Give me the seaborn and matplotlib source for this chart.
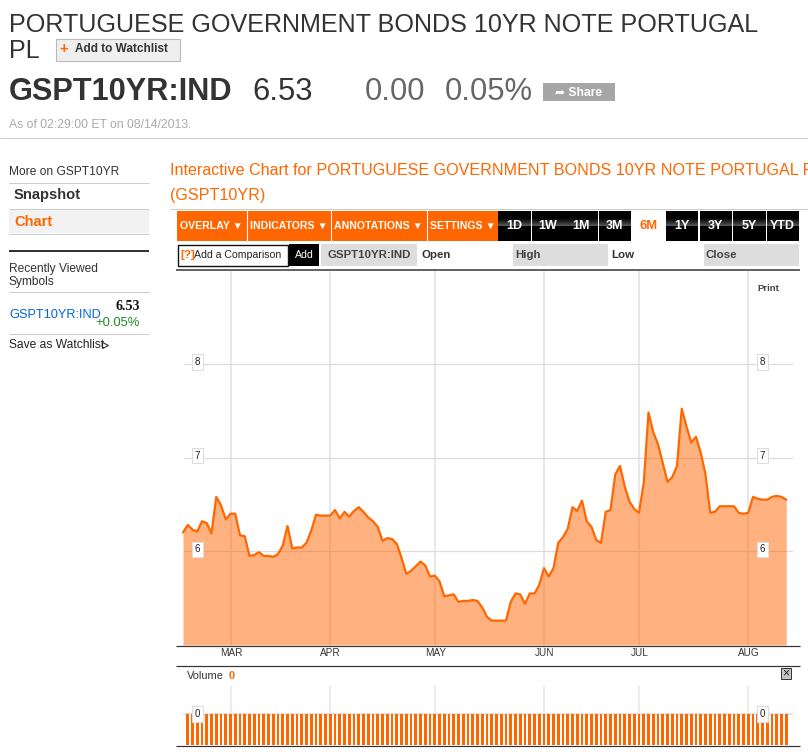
import numpy as np
import seaborn as sns
import matplotlib
matplotlib.use('Agg')
from matplotlib import pyplot as plt
from matplotlib.patches import Rectangle

sns.set_theme(style='white')
plt.rcParams['font.family'] = ['Liberation Sans', 'DejaVu Sans']

# yield closes, one per trading day
yields = [6.20, 6.28, 6.23, 6.21, 6.32, 6.30, 6.19, 6.58, 6.49, 6.34,
          6.40, 6.40, 6.17, 6.16, 5.95, 5.96, 5.99, 5.95, 5.95, 5.94,
          5.97, 6.06, 6.27, 6.03, 6.04, 6.04, 6.09, 6.22, 6.39, 6.38,
          6.38, 6.38, 6.44, 6.35, 6.42, 6.37, 6.43, 6.47, 6.42, 6.36,
          6.32, 6.26, 6.11, 6.14, 6.13, 6.08, 5.93, 5.76, 5.79, 5.84,
          5.89, 5.85, 5.73, 5.74, 5.68, 5.52, 5.53, 5.54, 5.46, 5.47,
          5.47, 5.48, 5.47, 5.40, 5.30, 5.26, 5.26, 5.26, 5.26, 5.46,
          5.55, 5.54, 5.44, 5.55, 5.55, 5.64, 5.82, 5.73, 5.82, 6.09,
          6.15, 6.24, 6.47, 6.43, 6.54, 6.32, 6.26, 6.12, 6.09, 6.42,
          6.44, 6.82, 6.91, 6.69, 6.53, 6.45, 6.41, 6.73, 7.48, 7.27,
          7.14, 6.94, 6.74, 6.79, 6.91, 7.52, 7.33, 7.16, 7.22, 7.05,
          6.82, 6.41, 6.42, 6.48, 6.48, 6.48, 6.48, 6.41, 6.40, 6.41,
          6.58, 6.56, 6.55, 6.55, 6.58, 6.59, 6.58, 6.55]
months = ['MAR', 'APR', 'MAY', 'JUN', 'JUL', 'AUG']
month_days = [10, 31, 53, 76, 96, 119]
yield_ticks = [6, 7, 8]
volume_days = list(range(1, len(yields)))
volumes = [0] * len(volume_days)

menu_labels = ['OVERLAY ▼', 'INDICATORS ▼', 'ANNOTATIONS ▼', 'SETTINGS ▼']
range_labels = ['1D', '1W', '1M', '3M', '6M', '1Y', '3Y', '5Y', 'YTD']

ORANGE = '#ff6600'
W, H = 808, 755
DAY_PX = 4.75
FIRST_PX = 183

fig = plt.figure(figsize=(W / 100, H / 100), dpi=100, facecolor='white')


def px_axes(x0, y0, x1, y1):
    ax = fig.add_axes([x0 / W, 1 - y1 / H, (x1 - x0) / W, (y1 - y0) / H])
    ax.patch.set_visible(False)
    return ax


# page furniture, drawn in pixel coordinates
bg = px_axes(0, 0, W, H)
bg.set_xlim(0, W)
bg.set_ylim(H, 0)
bg.axis('off')


def txt(x, y, s, size=11, color='#333333', weight='normal', ha='left', **kw):
    return bg.text(x, y, s, fontsize=size * 0.72, color=color, weight=weight,
                   ha=ha, va='center', **kw)


def box(x0, y0, x1, y1, color, **kw):
    bg.add_patch(Rectangle((x0, y0), x1 - x0, y1 - y0, facecolor=color,
                           linewidth=kw.pop('lw', 0), **kw))


def rule(x0, x1, y, color='#cccccc', lw=1):
    bg.plot([x0, x1], [y, y], color=color, lw=lw * 0.72, solid_capstyle='butt')


# header
txt(9, 24.5, 'PORTUGUESE GOVERNMENT BONDS 10YR NOTE PORTUGAL', 25.15, '#333333')
txt(9, 50.5, 'PL', 25.15, '#333333')
box(55.5, 38.5, 179.5, 60.5, '#efefef', edgecolor='#bbbbbb', lw=0.8)
txt(59.5, 49, '+', 15, ORANGE, 'bold')
txt(75, 49.5, 'Add to Watchlist', 11.7, '#333333', 'bold')
txt(9, 92.5, 'GSPT10YR:IND', 30.8, '#333333', 'bold')
txt(252, 92.5, '6.53', 31, '#333333')
txt(365, 92.5, '0.00', 31, '#666666')
txt(445, 92.5, '0.05%', 31, '#666666')
box(543, 83, 615, 101, '#a6a6a6')
txt(555, 92.5, '➦ Share', 12, 'white', 'bold')
txt(9, 124.5, 'As of 02:29:00 ET on 08/14/2013.', 12.2, '#aaaaaa')
rule(0, W, 137.5)

# sidebar
txt(9, 172, 'More on GSPT10YR', 12, '#333333')
rule(9, 149, 182.5)
txt(14, 194.5, 'Snapshot', 14.8, '#333333', 'bold')
rule(9, 149, 208.5)
box(9, 209, 149, 233, '#f2f2f2')
txt(14, 221.5, 'Chart', 14.8, ORANGE, 'bold')
rule(9, 149, 233.5)
rule(9, 149, 251, '#333333', 2)
txt(9, 269, 'Recently Viewed', 12, '#333333')
txt(9, 281.5, 'Symbols', 12, '#333333')
rule(9, 149, 291.5)
txt(9, 315, 'GSPT10YR:IND', 12.8, '#0066dd')
txt(140, 306.5, '6.53', 14, '#111111', 'bold', ha='right', family='Liberation Serif')
txt(140, 323, '+0.05%', 13, '#228822', ha='right')
rule(9, 149, 333.5)
txt(9, 345.5, 'Save as Watchlist', 12, '#222222')
bg.plot([105], [345], marker='>', ms=5, mfc='none', mec='#333333', mew=0.8)

# chart heading
txt(170, 170.5, 'Interactive Chart for PORTUGUESE GOVERNMENT BONDS 10YR NOTE PORTUGAL PL', 16.1, ORANGE)
txt(170, 195.5, '(GSPT10YR)', 16.1, ORANGE)
rule(170, W, 208.5)

# toolbar
box(177, 211, 497.5, 241, ORANGE)
menu_edges = [177, 246.5, 331, 426.5, 497.5]
for i, label in enumerate(menu_labels):
    txt(menu_edges[i] + 3.5, 226, label, 10.5, 'white', 'bold')
    if i:
        bg.plot([menu_edges[i]] * 2, [211, 241], color='white', lw=0.8)
range_edges = [498, 532, 565, 598.5, 632, 665.5, 699.5, 733, 766.5]
gloss = ['#060606', '#0e0e0e', '#181818', '#222222', '#2e2e2e', '#3a3a3a', '#484848', '#555555']
for label, x0 in zip(range_labels, range_edges):
    if label == '6M':
        txt(x0 + 16.5, 226, label, 13, ORANGE, 'bold', ha='center')
        continue
    box(x0, 211, x0 + 32.5, 241, '#000000')
    for k, shade in enumerate(gloss):
        box(x0, 218 + k, x0 + 32.5, 219 + k, shade)
    txt(x0 + 16, 226, label, 12.5, 'white', 'bold', ha='center')

box(177.5, 244.5, 288, 266, 'white', edgecolor='#111111', lw=1)
txt(180, 255, '[?]', 11.5, ORANGE, 'bold')
txt(194, 255, 'Add a Comparison', 10.5, '#222222')
box(289, 244, 319, 266, '#000000')
txt(304, 255.5, 'Add', 10.5, 'white', ha='center')
box(321, 244, 417, 266, '#dddddd')
txt(369, 255.5, 'GSPT10YR:IND', 11.4, '#444444', 'bold', ha='center')
txt(421, 255.5, 'Open', 11.5, '#333333', 'bold')
box(512.5, 244, 608, 266, '#dddddd')
txt(515, 255.5, 'High', 11.5, '#444444', 'bold')
txt(611, 255.5, 'Low', 11.5, '#333333', 'bold')
box(703.5, 244, 799, 266, '#dddddd')
txt(706, 255.5, 'Close', 11.5, '#444444', 'bold')
rule(176, 800, 269.5, '#333333', 1.5)
txt(768.5, 288.5, 'Print', 9.5, '#444444', 'bold', ha='center')

rule(176, 800, 645.5, '#333333', 1.2)
rule(176, 800, 665.5, '#333333', 1.2)
rule(176, 800, 745.5, '#333333', 1.2)
for m, d in zip(months, month_days):
    txt(FIRST_PX + d * DAY_PX + 0.5, 652.5, m, 10, '#333333', ha='center')
txt(187, 676, 'Volume', 11, '#333333')
txt(229, 676, str(volumes[-1]), 11, ORANGE, 'bold')
box(780.5, 667.5, 791, 678.5, '#c4c4c4', edgecolor='#333333', lw=0.7)
txt(785.7, 673, '×', 12, '#222222', ha='center')

# price panel
x_lo, x_hi = (176 - FIRST_PX) / DAY_PX, (800 - FIRST_PX) / DAY_PX
grid_lo, grid_hi = (184 - FIRST_PX) / DAY_PX, (792 - FIRST_PX) / DAY_PX
days = np.arange(len(yields))

ax = px_axes(176, 270, 800, 645)
for d in month_days:
    ax.plot([d, d], [5, 8.98], color='#e8e8e8', lw=1.5, zorder=1)
for v in yield_ticks:
    ax.plot([grid_lo, grid_hi], [v, v], color='#dcdcdc', lw=0.9, zorder=1)
ax.fill_between(days, yields, 5, color=ORANGE, alpha=0.5, lw=0, zorder=2)
sns.lineplot(x=days, y=yields, color=ORANGE, linewidth=1.6, ax=ax, zorder=3)
ax.set_xlim(x_lo, x_hi)
ax.set_ylim(5, 9)
ax.axis('off')


def tag(axis, x_px, y, s):
    axis.text((x_px - FIRST_PX) / DAY_PX, y, s, fontsize=7, color='#222222',
              ha='center', va='center', zorder=5,
              bbox=dict(boxstyle='square,pad=0.28', fc='white', ec='#dddddd', lw=0.8))


for v in yield_ticks:
    tag(ax, 197.5, v + 0.02, str(v))
    tag(ax, 762.5, v + 0.02, str(v))

# volume panel, all zero, bars hang from the floor of the scale
floor = -1
vol = px_axes(176, 686, 800, 745)
for d in month_days:
    vol.plot([d, d], [floor, 0.9], color='#ebebeb', lw=1.5, zorder=1)
vol.plot([grid_lo, grid_hi], [0, 0], color='#e4e4e4', lw=1.5, zorder=1)
sns.barplot(x=volume_days, y=[v - floor for v in volumes], bottom=floor,
            native_scale=True, color=ORANGE, saturation=1, width=0.56,
            linewidth=0, errorbar=None, ax=vol, zorder=2)
vol.set_xlim(x_lo, x_hi)
vol.set_ylim(floor, 0.9)
vol.axis('off')
tag(vol, 197.5, 0, str(volumes[0]))
tag(vol, 762.5, 0, str(volumes[-1]))

fig.savefig('out.png', dpi=100)
